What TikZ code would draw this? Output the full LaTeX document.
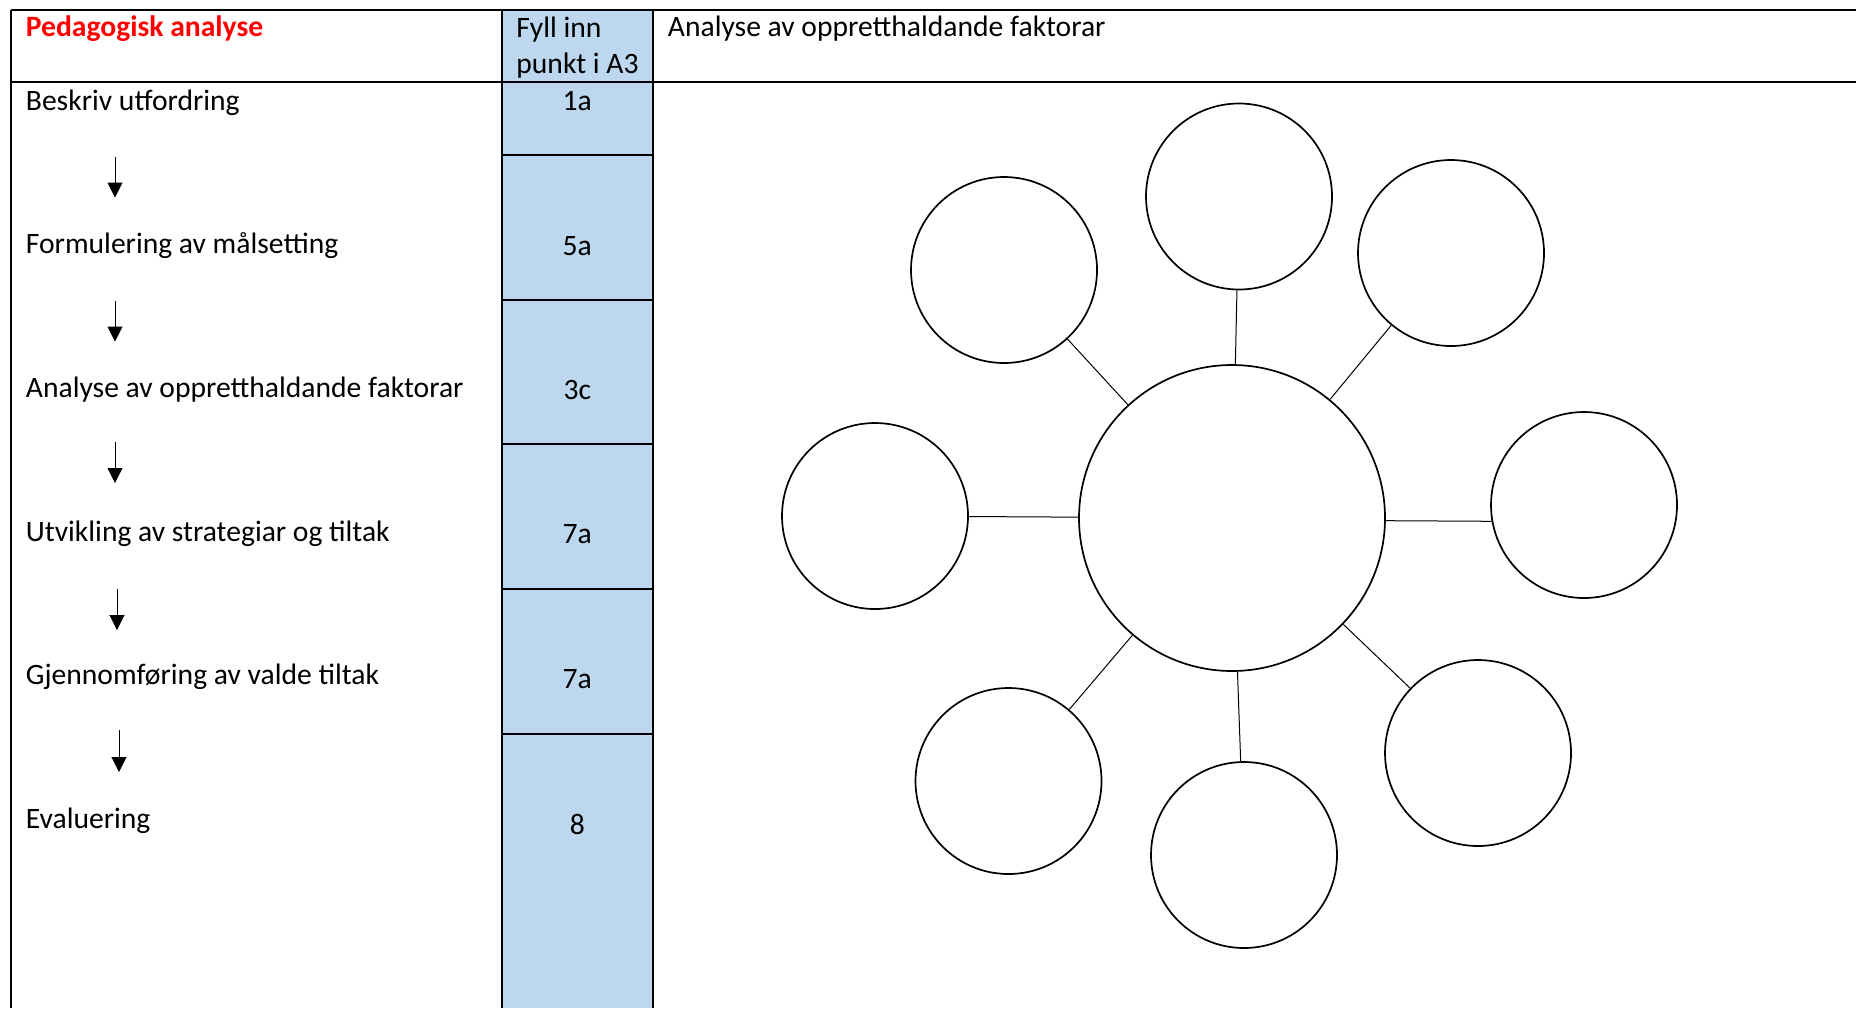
\documentclass[tikz,border=0pt]{standalone}
\usepackage{fontspec}
\setmainfont{Carlito}
\usetikzlibrary{arrows.meta,positioning}
\definecolor{cellblue}{HTML}{BDD7EE}
\definecolor{headred}{HTML}{FF0000}

\begin{document}
\begin{tikzpicture}
    [x=0.5pt,y=-0.5pt,
     rule/.style={line width=1pt},
     txt/.style={inner sep=0pt,anchor=base west,font=\fontsize{14.8}{17.8}\selectfont},
     num/.style={inner sep=0pt,anchor=base,font=\fontsize{14.8}{17.8}\selectfont},
     flow/.style={line width=0.5pt,-{Triangle[length=7.5pt,width=7.5pt]}},
     bubble/.style={circle,draw,line width=0.85pt,minimum size=93pt,inner sep=0pt},
     hubbubble/.style={circle,draw,line width=0.85pt,minimum size=153pt,inner sep=0pt},
     spoke/.style={line width=0.5pt}]
    \useasboundingbox (0,0) rectangle (1856,1008);

    % table
    \fill[cellblue] (502,9.5) rectangle (652.5,1008);
    \draw[rule] (11,9.5) -- (1856,9.5);
    \draw[rule] (11,82) -- (1856,82);
    \draw[rule] (11,9.5) -- (11,1008);
    \draw[rule] (502,9.5) -- (502,1008);
    \draw[rule] (652.5,9.5) -- (652.5,1008);
    \foreach \y in {155,300,444,588.5,734}
      \draw[rule] (502,\y) -- (652.5,\y);

    % header
    \node[txt,font=\fontsize{14.8}{17.8}\selectfont\bfseries,text=headred] (head) at (25.5,36.5) {Pedagogisk analyse};
    \node[txt,align=left] (fill) at (516,73) {Fyll inn\\punkt i A3};
    \node[txt] (analysis) at (667.5,36.5) {Analyse av oppretthaldande faktorar};

    % process steps
    \foreach \t [count=\i] in {Beskriv utfordring,Formulering av målsetting,
        Analyse av oppretthaldande faktorar,Utvikling av strategiar og tiltak,
        Gjennomføring av valde tiltak,Evaluering}
      \node[txt] (row\i) at (25.5,{110+143.7*(\i-1)}) {\t};
    \foreach \y/\t [count=\i] in {110/1a,255/5a,399/3c,543/7a,688/7a,834/8}
      \node[num] (pt\i) at (577.3,\y) {\t};
    \foreach \x/\ya/\yb [count=\i] in {115/156.5/197.5,115/300.5/341.5,115/441.5/483,
        117/589/630,119/730/772} {
      \coordinate (a\i top) at (\x,\ya);
      \coordinate (a\i bot) at (\x,\yb);
      \draw[flow] (a\i top) -- (a\i bot);
    }

    % factor diagram
    \node[hubbubble] (hub) at (1232,518) {};
    \node[bubble] (top) at (1239,196.5) {};
    \node[bubble] (topleft) at (1004,270) {};
    \node[bubble] (topright) at (1451,253) {};
    \node[bubble] (left) at (875,516) {};
    \node[bubble] (right) at (1584,505) {};
    \node[bubble] (botleft) at (1008.5,781) {};
    \node[bubble] (bottom) at (1244,855) {};
    \node[bubble] (botright) at (1478,753) {};
    \foreach \s in {top,topleft,topright,left,botleft,bottom,botright}
      \draw[spoke] (hub) -- (\s);
    \draw[spoke] (hub.-1) -- (right.190);
  \end{tikzpicture}
\end{document}
